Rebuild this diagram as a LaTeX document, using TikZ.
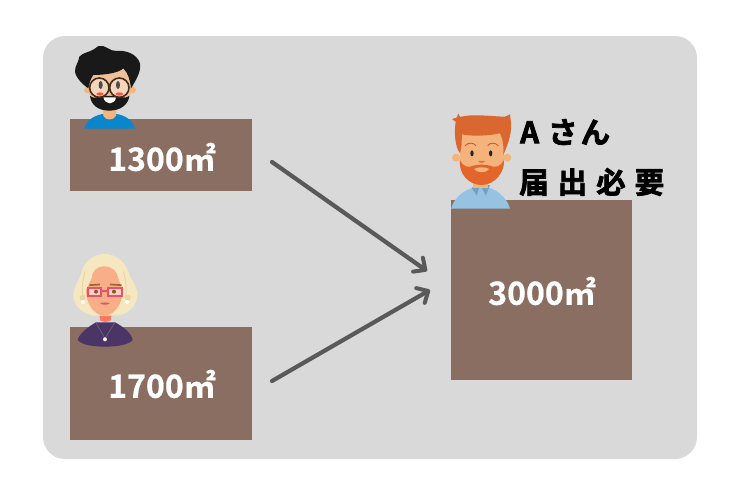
\documentclass[tikz,border=0pt]{standalone}
\usepackage{fontspec}
\setmainfont{Noto Sans CJK JP}[BoldFont={Noto Sans CJK JP Bold}]
\newfontfamily\heavyjp{Noto Sans CJK JP Bold}[FakeBold=2.5]
\newfontfamily\semijp{Noto Sans CJK JP Bold}[FakeBold=0.6]
\usetikzlibrary{arrows.meta}
\definecolor{panel}{HTML}{D9D9D9}
\definecolor{landbox}{HTML}{8B6E62}
\definecolor{arrowc}{HTML}{595959}
\definecolor{skinA}{HTML}{EFC09A}
\definecolor{neckA}{HTML}{F4B67E}
\definecolor{blueA}{HTML}{0A86CD}
\definecolor{hairB}{HTML}{F5E8C0}
\definecolor{hairBd}{HTML}{EFD2A4}
\definecolor{skinB}{HTML}{F8AF87}
\definecolor{pinkB}{HTML}{EC4E6E}
\definecolor{purpB}{HTML}{4A3566}
\definecolor{hairC}{HTML}{D9672F}
\definecolor{beardC}{HTML}{E2652B}
\definecolor{skinC}{HTML}{F3B37B}
\definecolor{shirtC}{HTML}{95C3E1}
\definecolor{shirtCd}{HTML}{6FA3C6}
\tikzset{
  landplot/.style={fill=landbox,draw=none,minimum width=#1,inner sep=0pt,anchor=north west},
  arealabel/.style={text=white,font=\fontsize{32}{32}\selectfont\semijp,inner sep=0pt},
  flow/.style={draw=arrowc,line width=4.2pt,line cap=round,-{Straight Barb[length=9pt,width=17pt,line width=4pt,round]}},
  cjkhead/.style={text=black,font=\fontsize{29.5}{30}\selectfont\heavyjp,inner sep=0pt,anchor=west},
  zoomA/.style={shift={(60,40)},x=0.3333pt,y=-0.3333pt},
  zoomB/.style={shift={(60,245)},x=0.3333pt,y=-0.3333pt},
  zoomC/.style={shift={(440,105)},x=0.3333pt,y=-0.3333pt},
}
\begin{document}
\begin{tikzpicture}[x=1pt,y=-1pt]
\useasboundingbox (0,0) rectangle (740,493);
\fill[white] (0,0) rectangle (740,493);
\fill[panel,rounded corners=22pt] (43,36) rectangle (697,459);

\node[landplot=182pt,minimum height=72pt] (boxa) at (70,119) {};
\node[landplot=182pt,minimum height=113pt] (boxb) at (70,327) {};
\node[landplot=181pt,minimum height=180pt] (boxc) at (451,200) {};

\node[arealabel] (laba) at (162,157) {1300㎡};
\node[arealabel] (labb) at (162,384) {1700㎡};
\node[arealabel] (labc) at (542,291) {3000㎡};

% man A
\begin{scope}[zoomA]
\fill[blueA] (72,266) .. controls (80,235) and (115,220) .. (148,220) .. controls (185,220) and (218,235) .. (225,266) -- cycle;
\fill[neckA] (128,195) -- (170,195) -- (168,228) .. controls (160,242) and (138,242) .. (130,228) -- cycle;
\fill[skinA] (150,135) ellipse [x radius=68, y radius=72];
\fill[skinA!85!orange] (82,150) circle (10) (218,150) circle (10);
\fill[black!90] (45,95) .. controls (45,75) and (55,70) .. (58,50) .. controls (70,35) and (90,40) .. (115,18) .. controls (135,12) and (150,35) .. (170,33) .. controls (195,30) and (230,40) .. (240,70) .. controls (245,95) and (225,125) .. (213,145) .. controls (210,120) and (205,100) .. (190,85) .. controls (175,100) and (130,105) .. (100,105) .. controls (92,115) and (88,130) .. (85,145) .. controls (70,135) and (48,115) .. (45,95) -- cycle;
\fill[black!90] (90,168) .. controls (100,180) and (125,165) .. (150,168) .. controls (175,165) and (195,180) .. (208,168) .. controls (205,195) and (180,212) .. (148,212) .. controls (115,212) and (93,195) .. (90,168) -- cycle;
\fill[white] (130,172) -- (168,172) .. controls (165,196) and (135,196) .. (130,172) -- cycle;
\fill[white!35!skinA] (118,143) circle (28) (178,143) circle (28);
\fill[black!70] (122,135) ellipse [x radius=6,y radius=12] (174,135) ellipse [x radius=6,y radius=12];
\fill[red!55!skinA] (120,162) ellipse [x radius=11,y radius=5] (178,162) ellipse [x radius=11,y radius=5];
\draw[black!65!brown,line width=1.6pt] (118,143) circle (29) (178,143) circle (29);
\end{scope}

% woman B
\begin{scope}[zoomB]
\fill[purpB] (108,232) -- (165,232) .. controls (190,245) and (215,265) .. (218,285) .. controls (205,300) and (170,305) .. (135,305) .. controls (100,305) and (65,300) .. (53,285) .. controls (58,265) and (85,245) .. (108,232) -- cycle;
\fill[skinB!70!red] (118,205) -- (155,205) -- (152,226) .. controls (145,232) and (128,232) .. (120,226) -- cycle;
\fill[hairB] (130,27) .. controls (165,25) and (195,50) .. (205,80) .. controls (212,105) and (235,125) .. (232,155) .. controls (228,190) and (195,210) .. (170,212) -- (100,212) .. controls (70,205) and (40,185) .. (40,150) .. controls (40,125) and (60,105) .. (65,80) .. controls (72,50) and (100,28) .. (130,27) -- cycle;
\draw[hairBd,line width=1pt] (75,80) .. controls (68,105) and (65,130) .. (68,155) (190,80) .. controls (198,105) and (200,130) .. (197,155);
\fill[hairBd] (68,158) circle (9) (203,158) circle (9);
\fill[skinB] (95,100) .. controls (95,80) and (110,64) .. (132,64) .. controls (158,64) and (172,80) .. (175,100) -- (188,135) .. controls (188,180) and (160,212) .. (133,212) .. controls (105,212) and (78,180) .. (78,135) -- cycle;
\fill[white] (69,171) circle (6) (201,171) circle (6);
\fill[brown!80!black] (88,118) -- (120,116) -- (120,121) -- (88,123) -- cycle (150,116) -- (185,118) -- (185,123) -- (150,121) -- cycle;
\fill[white!45!skinB] (84,128) rectangle (124,153) (144,128) rectangle (186,153);
\fill[brown!70!black] (108,140) circle (6) (162,140) circle (6);
\draw[pinkB,line width=1.8pt] (84,128) rectangle (124,153) (144,128) rectangle (186,153) (124,138) -- (144,138);
\fill[pinkB] (120,174) .. controls (130,172) and (140,172) .. (150,174) .. controls (145,181) and (125,181) .. (120,174) -- cycle;
\draw[black!55,line width=0.5pt] (107,232) -- (135,280) -- (165,232);
\fill[white!80!hairB] (135,283) circle (6);
\end{scope}

% man C
\begin{scope}[zoomC]
\fill[shirtC] (33,311) .. controls (45,270) and (85,245) .. (122,245) .. controls (165,245) and (200,275) .. (210,311) -- cycle;
\fill[shirtCd] (95,248) -- (120,240) -- (110,272) -- cycle (150,240) -- (122,242) -- (138,272) -- cycle;
\fill[skinC] (100,215) rectangle (145,248);
\fill[skinC] (48,158) circle (12) (202,158) circle (12);
\fill[skinC] (62,85) -- (190,85) -- (192,170) .. controls (190,215) and (155,235) .. (125,235) .. controls (90,235) and (62,215) .. (60,170) -- cycle;
\fill[beardC] (60,165) .. controls (68,185) and (85,190) .. (100,182) .. controls (115,178) and (135,178) .. (150,182) .. controls (165,190) and (182,185) .. (192,165) .. controls (195,200) and (165,240) .. (125,240) .. controls (85,240) and (55,205) .. (60,165) -- cycle;
\fill[skinC] (102,192) .. controls (115,185) and (135,185) .. (148,192) .. controls (140,205) and (110,205) .. (102,192) -- cycle;
\fill[hairC] (47,50) -- (36,42) -- (50,38) -- (55,26) -- (60,36) .. controls (100,25) and (160,35) .. (195,35) -- (210,28) -- (212,45) .. controls (218,80) and (205,115) .. (190,150) .. controls (192,125) and (188,100) .. (180,85) .. controls (150,92) and (100,95) .. (66,88) .. controls (65,110) and (65,130) .. (60,145) .. controls (45,125) and (42,85) .. (47,50) -- cycle;
\draw[beardC!70!purple,line width=0.8pt] (75,122) .. controls (85,112) and (100,112) .. (108,122) (143,122) .. controls (150,112) and (165,112) .. (175,122);
\fill[black!85] (96,145) ellipse [x radius=5,y radius=9] (152,145) ellipse [x radius=5,y radius=9];
\fill[beardC!80!skinC] (114,168) .. controls (120,176) and (130,176) .. (136,168) -- cycle;
\end{scope}

\node[cjkhead] (ttla) at (520,132) {A\hspace{9pt}さ\hspace{3pt}ん};
\node[cjkhead] (ttlb) at (519,182) {届\hspace{9pt}出\hspace{9pt}必\hspace{9pt}要};

\coordinate (sa) at (272,162);
\coordinate (ta) at (427,271);
\coordinate (sb) at (272,381);
\coordinate (tb) at (430,290);
\draw[flow] (sa) -- (ta);
\draw[flow] (sb) -- (tb);
\end{tikzpicture}
\end{document}
